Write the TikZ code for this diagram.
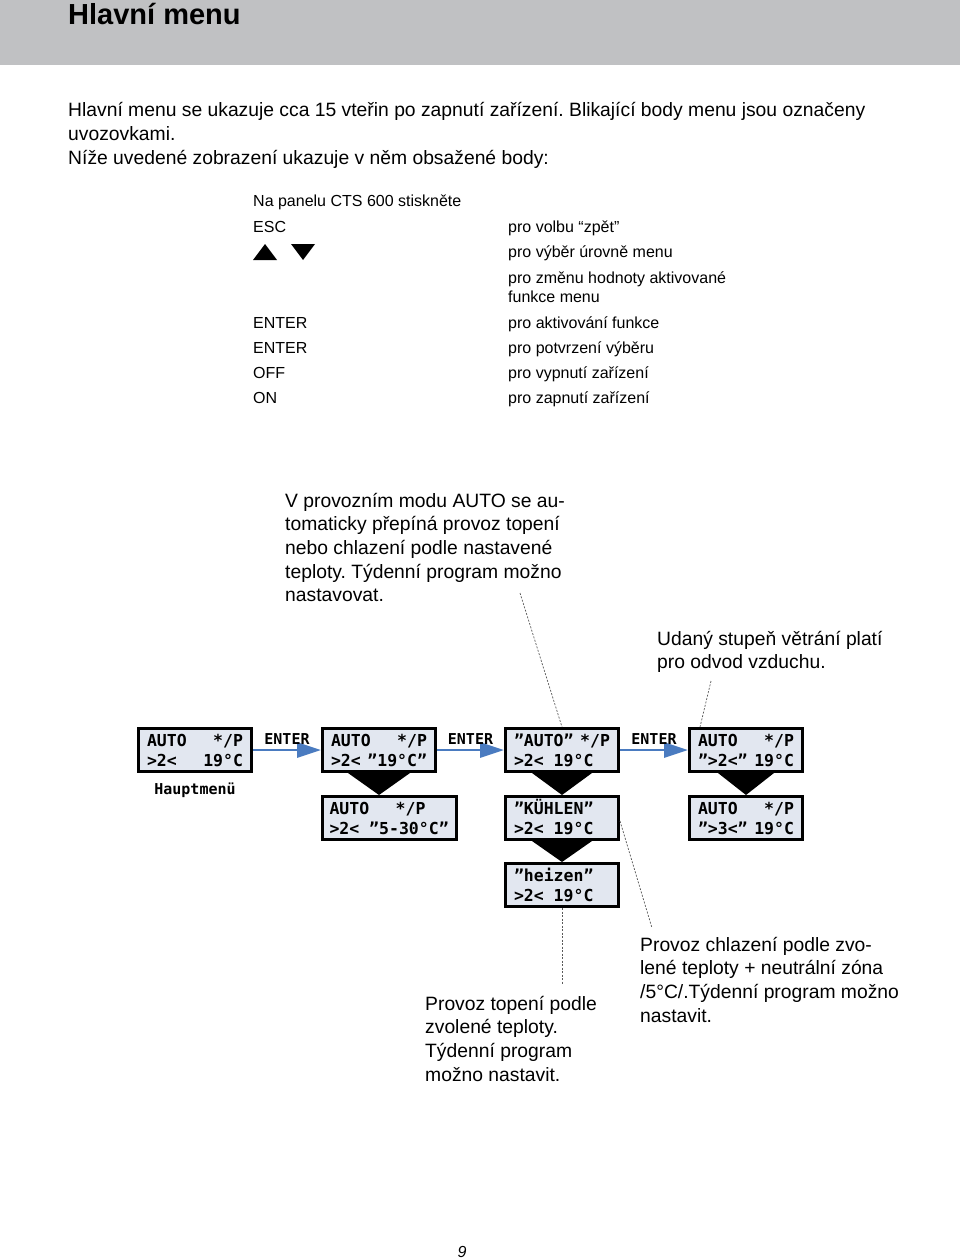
\documentclass[tikz,border=0pt]{standalone}
\usepackage{fontspec}
\setmainfont{Liberation Sans}
\newfontfamily\lcdfont{DejaVu Sans Mono}
\newfontfamily\lblfont{DejaVu Sans Mono}
\usetikzlibrary{arrows.meta}
\definecolor{hdrgray}{RGB}{192,193,195}
\definecolor{lcdfill}{RGB}{226,231,240}
\definecolor{arrblue}{RGB}{74,123,192}
\definecolor{leadgray}{RGB}{90,90,90}
\newcommand\lcdstrut{\rule[-2pt]{0pt}{17pt}}
\newcommand\lcdlines[3]{\vbox{\baselineskip=20pt\lineskiplimit=-30pt\hbox to #1{\lcdstrut #2}\hbox to #1{\lcdstrut #3}}}
\frenchspacing
\tikzset{
 lcd/.style={draw=black, line width=2.6pt, fill=lcdfill, inner sep=0pt, minimum height=43.4pt, font={\lcdfont\bfseries\fontsize{16.5}{20}\selectfont}},
 lcdn/.style={lcd, minimum width=113.4pt},
 lcdwide/.style={lcd, minimum width=134.4pt},
 lbl/.style={font={\lblfont\bfseries\fontsize{15}{18}\selectfont}, text=black, inner sep=0pt},
 ttl/.style={font={\bfseries\fontsize{29}{34}\selectfont}, inner sep=0pt},
 body/.style={font={\fontsize{19.3}{23.7}\selectfont\frenchspacing}, inner sep=0pt, align=left},
 tbl/.style={font={\fontsize{16}{19.5}\selectfont}, inner sep=0pt},
 flow/.style={arrblue, line width=2.8pt, -{Triangle[length=24pt,width=15pt]}},
 lead/.style={leadgray, line width=0.7pt, dash pattern=on 2pt off 1.5pt},
 ptr/.style={fill=black},
 tri/.style={fill=black}
}
\begin{document}
\begin{tikzpicture}[x=1pt,y=-1pt]
\useasboundingbox (0,0) rectangle (960,1260);
\fill[white] (0,0) rectangle (960,1260);
\fill[hdrgray] (0,0) rectangle (960,65);
\node[ttl, anchor=base west] (title) at (68,25) {Hlavní menu};

% intro
\node[body, anchor=base west] (i1) at (68,117) {Hlavní menu se ukazuje cca 15 vteřin po zapnutí zařízení. Blikající body menu jsou označeny};
\node[body, anchor=base west] (i2) at (68,141) {uvozovkami.};
\node[body, anchor=base west] (i3) at (68,164.5) {Níže uvedené zobrazení ukazuje v něm obsažené body:};

% table
\node[tbl, anchor=base west] (t0) at (253,207) {Na panelu CTS 600 stiskněte};
\node[tbl, anchor=base west] (k1) at (253,232) {ESC};
\node[tbl, anchor=base west] (d1) at (508,232) {pro volbu “zpět”};
\fill[tri] (253,260) -- (277,260) -- (265,244) -- cycle;
\fill[tri] (291,244) -- (315,244) -- (303,260) -- cycle;
\node[tbl, anchor=base west] (d2) at (508,257) {pro výběr úrovně menu};
\node[tbl, anchor=base west] (d3) at (508,283) {pro změnu hodnoty aktivované};
\node[tbl, anchor=base west] (d3b) at (508,302) {funkce menu};
\node[tbl, anchor=base west] (k4) at (253,328) {ENTER};
\node[tbl, anchor=base west] (d4) at (508,328) {pro aktivování funkce};
\node[tbl, anchor=base west] (k5) at (253,353) {ENTER};
\node[tbl, anchor=base west] (d5) at (508,353) {pro potvrzení výběru};
\node[tbl, anchor=base west] (k6) at (253,378) {OFF};
\node[tbl, anchor=base west] (d6) at (508,378) {pro vypnutí zařízení};
\node[tbl, anchor=base west] (k7) at (253,403) {ON};
\node[tbl, anchor=base west] (d7) at (508,403) {pro zapnutí zařízení};

% annotations (base anchor = last line)
\node[body, anchor=base west] (n1) at (285,601.8) {V provozním modu AUTO se au-\\tomaticky přepíná provoz topení\\nebo chlazení podle nastavené\\teploty. Týdenní program možno\\nastavovat.};
\node[body, anchor=base west] (n2) at (657,668.7) {Udaný stupeň větrání platí\\pro odvod vzduchu.};
\node[body, anchor=base west] (n3) at (425,1081.1) {Provoz topení podle\\zvolené teploty.\\Týdenní program\\možno nastavit.};
\node[body, anchor=base west] (n4) at (640,1022.1) {Provoz chlazení podle zvo-\\lené teploty + neutrální zóna\\/5°C/.Týdenní program možno\\nastavit.};

% LCD boxes
\node[lcdn] (b1) at (195,750) {\lcdlines{96pt}{AUTO\hfill */P}{>2<\hfill 19°C}};
\node[lcdn] (b2) at (379,750) {\lcdlines{96pt}{AUTO\hfill */P}{>2<\hfill ”19°C”}};
\node[lcdn] (b3) at (562,750) {\lcdlines{96pt}{”AUTO”\hfill */P}{>2< 19°C\hfill}};
\node[lcdn] (b4) at (746,750) {\lcdlines{96pt}{AUTO\hfill */P}{”>2<”\hfill 19°C}};
\node[lcdwide] (b5) at (389.5,818) {\lcdlines{120pt}{AUTO\hfill */P\hskip 24pt}{>2< ”5-30°C”\hfill}};
\node[lcdn] (b6) at (562,818) {\lcdlines{96pt}{”KÜHLEN”\hfill}{>2< 19°C\hfill}};
\node[lcdn] (b7) at (746,818) {\lcdlines{96pt}{AUTO\hfill */P}{”>3<”\hfill 19°C}};
\node[lcdn] (b8) at (562,885) {\lcdlines{96pt}{”heizen”\hfill}{>2< 19°C\hfill}};

\node[lbl, anchor=base] (hm) at (195,794) {Hauptmenü};

% flow arrows
\draw[flow] (b1.east) -- node[lbl, above=4pt] (e1) {ENTER} (b2.west);
\draw[flow] (b2.east) -- node[lbl, above=4pt] (e2) {ENTER} (b3.west);
\draw[flow] (b3.east) -- node[lbl, above=4pt] (e3) {ENTER} (b4.west);

% pointers down
\fill[ptr] ([xshift=-31pt]b2.south) -- ([xshift=31pt]b2.south) -- (b2.south |- b5.north) -- cycle;
\fill[ptr] ([xshift=-30pt]b3.south) -- ([xshift=30pt]b3.south) -- (b3.south |- b6.north) -- cycle;
\fill[ptr] ([xshift=-30pt]b6.south) -- ([xshift=30pt]b6.south) -- (b6.south |- b8.north) -- cycle;
\fill[ptr] ([xshift=-28pt]b4.south) -- ([xshift=28pt]b4.south) -- (b4.south |- b7.north) -- cycle;

% leader lines
\coordinate (l1a) at (520,593);
\coordinate (l2a) at (711,681);
\coordinate (l3b) at (652,928);
\coordinate (l4b) at (562,985);
\draw[lead] (l1a) -- (b3.north);
\draw[lead] (l2a) -- ([xshift=-46pt]b4.north);
\draw[lead] ([yshift=-3pt]b6.east) -- (l3b);
\draw[lead] (b8.south) -- (l4b);

\node[font={\itshape\fontsize{16}{19}\selectfont}, inner sep=0pt, anchor=base] (pg) at (462,1257) {9};
\end{tikzpicture}
\end{document}
